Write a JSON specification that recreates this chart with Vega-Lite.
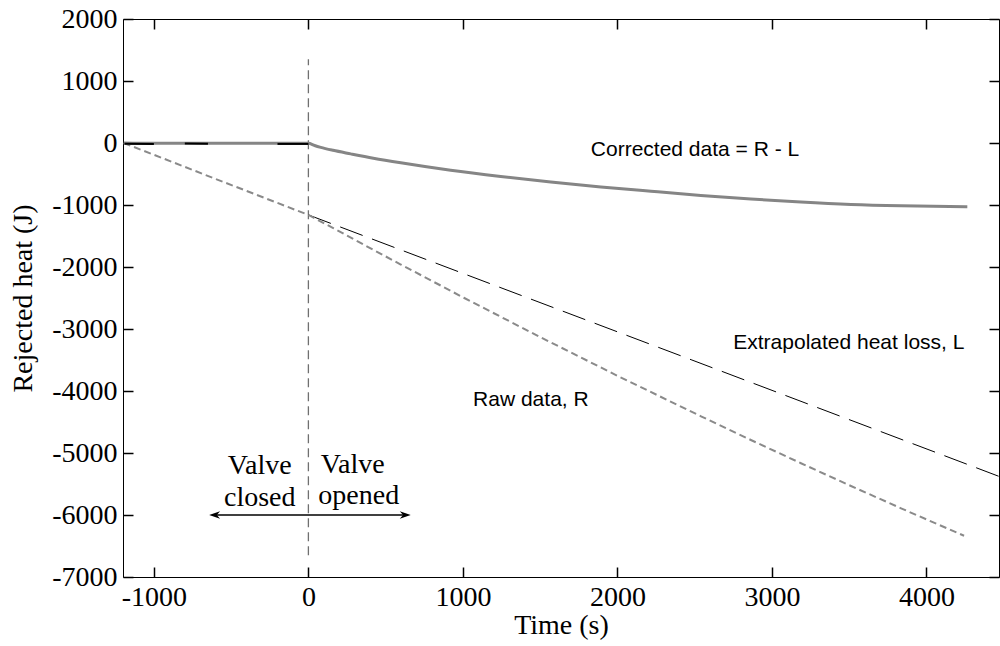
{
  "$schema": "https://vega.github.io/schema/vega-lite/v6.json",
  "width": 876,
  "height": 558,
  "autosize": {"type": "none"},
  "padding": {"left": 123, "top": 19, "right": 1, "bottom": 69},
  "background": "white",
  "config": {
    "view": {"stroke": "#000000", "strokeWidth": 1},
    "axis": {
      "domain": false,
      "grid": false,
      "ticks": true,
      "zindex": 1,
      "tickColor": "#000000",
      "tickOpacity": 1,
      "tickSize": 10,
      "tickWidth": 1.5,
      "offset": -10,
      "labelFont": "Liberation Serif",
      "labelFontSize": 28,
      "labelColor": "#000000",
      "labelExpr": "'' + datum.value",
      "titleFont": "Liberation Serif",
      "titleFontSize": 28,
      "titleFontWeight": "normal",
      "titleColor": "#000000"
    },
    "axisBottom": {"ticks": true, "tickSize": 10, "tickColor": "#000000"},
    "axisTop": {"ticks": true, "tickSize": 10, "tickColor": "#000000"},
    "axisLeft": {"ticks": true, "tickSize": 10, "tickColor": "#000000"},
    "axisRight": {"ticks": true, "tickSize": 10, "tickColor": "#000000"}
  },
  "datasets": {
    "corrected": [
      {"t": -1195, "q": 0}, {"t": -1000, "q": -5}, {"t": -600, "q": -5}, {"t": -300, "q": -3}, {"t": 0, "q": -5},
      {"t": 40, "q": -40}, {"t": 80, "q": -70}, {"t": 160, "q": -118}, {"t": 274, "q": -175}, {"t": 420, "q": -245},
      {"t": 598, "q": -320}, {"t": 921, "q": -440},
      {"t": 1245, "q": -540}, {"t": 1569, "q": -628}, {"t": 1893, "q": -708}, {"t": 2217, "q": -778},
      {"t": 2540, "q": -845}, {"t": 2864, "q": -903}, {"t": 3188, "q": -952}, {"t": 3512, "q": -990},
      {"t": 3836, "q": -1012}, {"t": 4265, "q": -1027}
    ],
    "noise": [
      {"seg": 1, "t": -1190, "q": -12}, {"seg": 1, "t": -1000, "q": -15},
      {"seg": 2, "t": -800, "q": -10}, {"seg": 2, "t": -650, "q": -12},
      {"seg": 3, "t": -200, "q": -15}, {"seg": 3, "t": 0, "q": -15}
    ],
    "raw": [
      {"t": -1195, "q": 0}, {"t": -600, "q": -580}, {"t": 0, "q": -1160}, {"t": 164, "q": -1377},
      {"t": 384, "q": -1675}, {"t": 598, "q": -1960}, {"t": 1006, "q": -2496}, {"t": 1504, "q": -3135},
      {"t": 2003, "q": -3758}, {"t": 2541, "q": -4408}, {"t": 2864, "q": -4790}, {"t": 3188, "q": -5165},
      {"t": 3512, "q": -5532}, {"t": 3836, "q": -5892}, {"t": 4244, "q": -6335}
    ],
    "loss": [
      {"t": 0, "q": -1160}, {"t": 2477, "q": -3495}, {"t": 4470, "q": -5377}
    ],
    "notes": [
      {"t": 1828, "q": -108, "label": "Corrected data = R - L"},
      {"t": 2750, "q": -3226, "label": "Extrapolated heat loss, L"},
      {"t": 1066, "q": -4140, "label": "Raw data, R"}
    ],
    "valve": [
      {"t": -315, "q": -5216, "label": "Valve"},
      {"t": -315, "q": -5721, "label": "closed"},
      {"t": 287, "q": -5189, "label": "Valve"},
      {"t": 326, "q": -5700, "label": "opened"}
    ],
    "arrowline": [{"t": -600, "t2": 620, "q": -6000}],
    "heads": [
      {"t": -607, "q": -6000, "dir": "left"},
      {"t": 627, "q": -6000, "dir": "right"}
    ],
    "vline": [{"t": 0, "q": -6650, "q2": 1350}]
  },
  "layer": [
    {
      "data": {"name": "vline"},
      "mark": {"type": "rule", "color": "#707070", "strokeWidth": 1.3, "strokeDash": [9, 5]},
      "encoding": {
        "x": {"field": "t", "type": "quantitative", "scale": {"domain": [-1200, 4470], "nice": false, "zero": false},
          "axis": {"orient": "bottom", "values": [-1000, 0, 1000, 2000, 3000, 4000], "title": "Time (s)", "ticks": true, "tickSize": 10, "labelPadding": 6, "titlePadding": 0, "labelFlush": false}},
        "y": {"field": "q", "type": "quantitative", "scale": {"domain": [-7000, 2000], "nice": false, "zero": false},
          "axis": {"orient": "left", "values": [-7000, -6000, -5000, -4000, -3000, -2000, -1000, 0, 1000, 2000], "title": "Rejected heat (J)", "ticks": true, "tickSize": 10, "labelPadding": 6, "titlePadding": 14, "labelFlush": false}},
        "y2": {"field": "q2"}
      }
    },
    {
      "data": {"name": "loss"},
      "mark": {"type": "line", "color": "#000000", "strokeWidth": 1, "strokeDash": [24, 10]},
      "encoding": {
        "x": {"field": "t", "type": "quantitative", "scale": {"domain": [-1200, 4470], "nice": false, "zero": false},
          "axis": {"orient": "top", "values": [-1000, 0, 1000, 2000, 3000, 4000], "ticks": true, "tickSize": 10, "labels": false, "title": null}},
        "y": {"field": "q", "type": "quantitative", "scale": {"domain": [-7000, 2000], "nice": false, "zero": false},
          "axis": {"orient": "right", "values": [-7000, -6000, -5000, -4000, -3000, -2000, -1000, 0, 1000, 2000], "ticks": true, "tickSize": 10, "labels": false, "title": null}}
      }
    },
    {
      "data": {"name": "raw"},
      "mark": {"type": "line", "color": "#8a8a8a", "strokeWidth": 2, "strokeDash": [7, 4]},
      "encoding": {
        "x": {"field": "t", "type": "quantitative", "axis": null},
        "y": {"field": "q", "type": "quantitative", "axis": null}
      }
    },
    {
      "data": {"name": "corrected"},
      "mark": {"type": "line", "color": "#858585", "strokeWidth": 3, "interpolate": "monotone"},
      "encoding": {
        "x": {"field": "t", "type": "quantitative", "axis": null},
        "y": {"field": "q", "type": "quantitative", "axis": null}
      }
    },
    {
      "data": {"name": "noise"},
      "mark": {"type": "line", "color": "#000000", "strokeWidth": 2},
      "encoding": {
        "x": {"field": "t", "type": "quantitative", "axis": null},
        "y": {"field": "q", "type": "quantitative", "axis": null},
        "detail": {"field": "seg", "type": "nominal"}
      }
    },
    {
      "data": {"name": "arrowline"},
      "mark": {"type": "rule", "color": "#000000", "strokeWidth": 1.3},
      "encoding": {
        "x": {"field": "t", "type": "quantitative", "axis": null},
        "x2": {"field": "t2"},
        "y": {"field": "q", "type": "quantitative", "axis": null}
      }
    },
    {
      "data": {"name": "heads"},
      "mark": {"type": "point", "filled": true, "color": "#000000", "opacity": 1, "size": 120},
      "encoding": {
        "x": {"field": "t", "type": "quantitative", "axis": null},
        "y": {"field": "q", "type": "quantitative", "axis": null},
        "shape": {"field": "dir", "type": "nominal", "legend": null,
          "scale": {"domain": ["left", "right"], "range": ["M -1 0 L 1 -0.7 L 0.4 0 L 1 0.7 Z", "M 1 0 L -1 -0.7 L -0.4 0 L -1 0.7 Z"]}}
      }
    },
    {
      "data": {"name": "notes"},
      "mark": {"type": "text", "align": "left", "baseline": "middle", "font": "Liberation Sans", "fontSize": 21, "color": "#000000"},
      "encoding": {
        "x": {"field": "t", "type": "quantitative", "axis": null},
        "y": {"field": "q", "type": "quantitative", "axis": null},
        "text": {"field": "label"}
      }
    },
    {
      "data": {"name": "valve"},
      "mark": {"type": "text", "align": "center", "baseline": "middle", "font": "Liberation Serif", "fontSize": 28, "color": "#000000"},
      "encoding": {
        "x": {"field": "t", "type": "quantitative", "axis": null},
        "y": {"field": "q", "type": "quantitative", "axis": null},
        "text": {"field": "label"}
      }
    }
  ],
  "resolve": {"axis": {"x": "independent", "y": "independent"}}
}
